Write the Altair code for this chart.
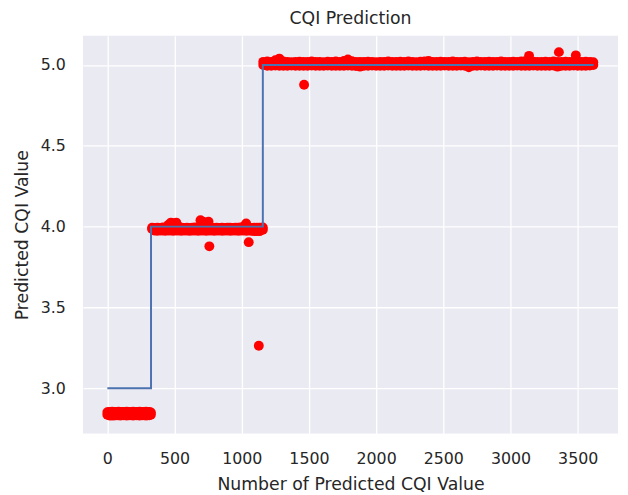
import altair as alt
import pandas as pd

# Predicted values: each dense band is read as its upper and lower envelope
low_x = [0, 12, 24, 36, 48, 60, 72, 84, 96, 108,
         120, 132, 144, 156, 168, 180, 192, 204, 216, 228,
         240, 252, 264, 276, 288, 300, 312, 324]
low_hi = [2.852, 2.853, 2.852, 2.854, 2.853, 2.852, 2.853, 2.854, 2.852, 2.853,
          2.853, 2.852, 2.854, 2.853, 2.852, 2.853, 2.854, 2.852, 2.853, 2.852,
          2.854, 2.853, 2.852, 2.853, 2.854, 2.852, 2.853, 2.85]
low_lo = [2.835, 2.832, 2.83, 2.832, 2.831, 2.832, 2.833, 2.832, 2.831, 2.832,
          2.833, 2.832, 2.831, 2.832, 2.833, 2.832, 2.831, 2.832, 2.833, 2.832,
          2.831, 2.832, 2.833, 2.832, 2.831, 2.832, 2.833, 2.835]

mid_x = [333, 353, 373, 393, 413, 433, 453, 473, 493, 513,
         533, 553, 573, 593, 613, 633, 653, 673, 693, 713,
         733, 753, 773, 793, 813, 833, 853, 873, 893, 913,
         933, 953, 973, 993, 1013, 1033, 1053, 1073, 1093, 1113,
         1133, 1157]
mid_hi = [3.993, 3.992, 3.994, 3.992, 3.995, 3.993, 4.01, 4.025, 4.02, 4.025,
          4.0, 3.993, 3.992, 3.994, 3.992, 3.993, 3.995, 3.993, 4.04, 4.03,
          4.0, 4.03, 3.993, 3.992, 3.994, 3.992, 3.993, 3.992, 3.994, 3.993,
          3.992, 3.994, 3.993, 3.995, 4.0, 4.02, 3.993, 3.992, 3.994, 3.993,
          3.994, 3.995]
mid_lo = [3.985, 3.975, 3.974, 3.976, 3.975, 3.974, 3.976, 3.975, 3.974, 3.976,
          3.975, 3.974, 3.976, 3.975, 3.974, 3.975, 3.976, 3.974, 3.975, 3.976,
          3.974, 3.975, 3.976, 3.974, 3.975, 3.976, 3.974, 3.975, 3.976, 3.974,
          3.975, 3.976, 3.974, 3.975, 3.976, 3.974, 3.975, 3.974, 3.972, 3.973,
          3.972, 3.98]

top_x = [1160, 1190, 1220, 1250, 1280, 1310, 1340, 1370, 1400, 1430,
         1460, 1490, 1520, 1550, 1580, 1610, 1640, 1670, 1700, 1730,
         1760, 1790, 1820, 1850, 1880, 1910, 1940, 1970, 2000, 2030,
         2060, 2090, 2120, 2150, 2180, 2210, 2240, 2270, 2300, 2330,
         2360, 2390, 2420, 2450, 2480, 2510, 2540, 2570, 2600, 2630,
         2660, 2690, 2720, 2750, 2780, 2810, 2840, 2870, 2900, 2930,
         2960, 2990, 3020, 3050, 3080, 3110, 3140, 3170, 3200, 3230,
         3260, 3290, 3320, 3350, 3380, 3410, 3440, 3470, 3500, 3530,
         3560, 3590, 3616]
top_hi = [5.02, 5.022, 5.02, 5.03, 5.04, 5.022, 5.02, 5.018, 5.02, 5.021,
          5.02, 5.019, 5.022, 5.02, 5.02, 5.018, 5.021, 5.02, 5.022, 5.02,
          5.025, 5.035, 5.024, 5.02, 5.019, 5.02, 5.021, 5.02, 5.018, 5.02,
          5.02, 5.022, 5.02, 5.019, 5.021, 5.02, 5.022, 5.02, 5.018, 5.021,
          5.022, 5.026, 5.02, 5.019, 5.021, 5.02, 5.02, 5.022, 5.019, 5.02,
          5.021, 5.018, 5.02, 5.022, 5.02, 5.019, 5.021, 5.02, 5.02, 5.022,
          5.02, 5.019, 5.021, 5.02, 5.022, 5.024, 5.03, 5.021, 5.02, 5.019,
          5.021, 5.02, 5.022, 5.02, 5.019, 5.021, 5.02, 5.022, 5.024, 5.02,
          5.021, 5.02, 5.018]
top_lo = [5.0, 4.996, 4.995, 4.997, 4.996, 4.995, 4.996, 4.997, 4.995, 4.996,
          4.996, 4.995, 4.997, 4.996, 4.995, 4.996, 4.997, 4.995, 4.996, 4.996,
          4.995, 4.997, 4.996, 4.994, 4.99, 4.996, 4.995, 4.997, 4.996, 4.995,
          4.996, 4.997, 4.995, 4.996, 4.996, 4.995, 4.997, 4.996, 4.995, 4.996,
          4.997, 4.995, 4.996, 4.996, 4.995, 4.997, 4.996, 4.995, 4.996, 4.997,
          4.995, 4.986, 4.996, 4.995, 4.997, 4.996, 4.995, 4.996, 4.997, 4.995,
          4.996, 4.996, 4.995, 4.997, 4.996, 4.995, 4.996, 4.997, 4.995, 4.996,
          4.996, 4.995, 4.997, 4.99, 4.996, 4.995, 4.996, 4.997, 4.995, 4.996,
          4.996, 4.997, 5.0]

out_x = [759, 1052, 1127, 1464, 3138, 3360, 3486]
out_y = [3.878, 3.904, 3.263, 4.878, 5.057, 5.080, 5.060]

# Actual CQI (step line)
step_x = [0, 325, 1157, 3618]
step_y = [3, 4, 5, 5]

x_ticks = [0, 500, 1000, 1500, 2000, 2500, 3000, 3500]
y_ticks = [3.0, 3.5, 4.0, 4.5, 5.0]

pts = pd.DataFrame({
    "x": low_x + low_x + mid_x + mid_x + top_x + top_x + out_x,
    "y": low_hi + low_lo + mid_hi + mid_lo + top_hi + top_lo + out_y,
})
steps = pd.DataFrame({"x": step_x, "y": step_y})

xscale = alt.Scale(domain=[-181, 3800], nice=False, zero=False)
yscale = alt.Scale(domain=[2.719, 5.181], nice=False, zero=False)

xaxis = alt.Axis(values=x_ticks, title="Number of Predicted CQI Value", format="d")
yaxis = alt.Axis(values=y_ticks, title="Predicted CQI Value", format=".1f")

scatter = alt.Chart(pts).mark_circle(size=100, color="#ff0000", opacity=1).encode(
    x=alt.X("x:Q", scale=xscale, axis=xaxis),
    y=alt.Y("y:Q", scale=yscale, axis=yaxis),
)

line = alt.Chart(steps).mark_line(interpolate="step-after", color="#4c72b0", strokeWidth=2).encode(
    x=alt.X("x:Q", scale=xscale),
    y=alt.Y("y:Q", scale=yscale),
)

chart = (scatter + line).properties(
    width=542,
    height=403,
    title=alt.TitleParams("CQI Prediction", fontSize=17.5, font="DejaVu Sans", fontWeight="normal",
                          color="#262626", offset=8),
    autosize=alt.AutoSizeParams(type="none"),
    padding={"left": 76, "top": 25, "right": 2, "bottom": 58},
).configure_view(
    fill="#eaeaf2", stroke=None
).configure_axis(
    grid=True, gridColor="#ffffff", gridWidth=1.3,
    domain=False, ticks=False, tickSize=0,
    labelFont="DejaVu Sans", labelFontSize=16, labelColor="#262626",
    titleFont="DejaVu Sans", titleFontSize=17.5, titleFontWeight="normal", titleColor="#262626",
).configure_axisX(
    labelPadding=17, titlePadding=10,
).configure_axisY(
    labelPadding=18, titlePadding=9,
)

chart.save("out.html", embed_options={"renderer": "svg", "actions": False})
